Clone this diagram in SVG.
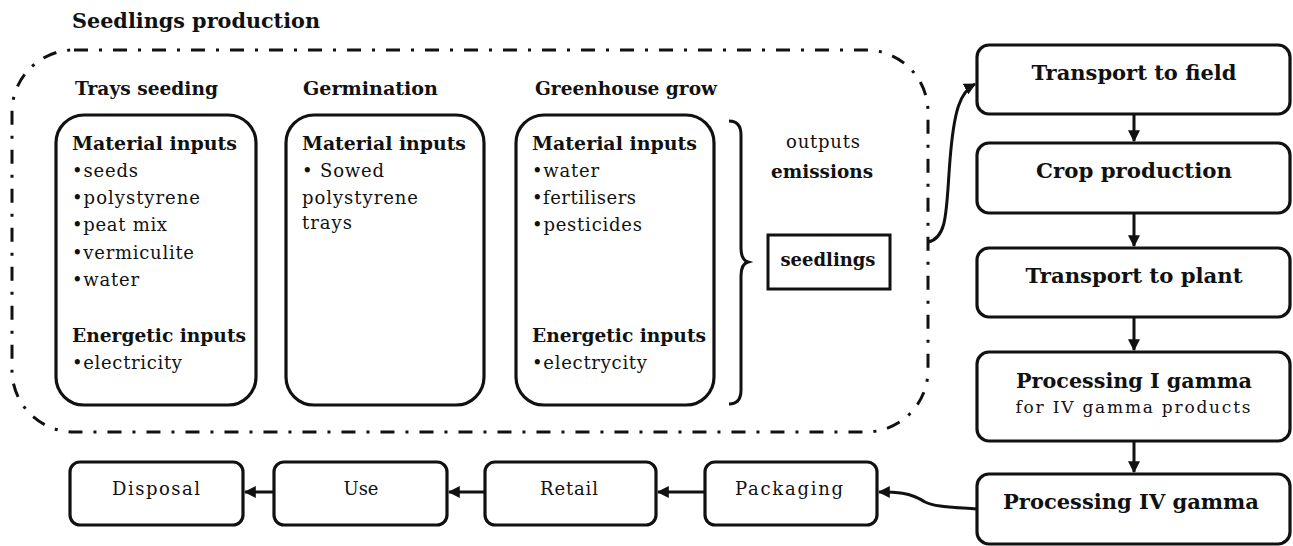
<svg xmlns="http://www.w3.org/2000/svg" width="1293" height="546" viewBox="0 0 1293 546">
  <style>
    text { font-family: "DejaVu Serif", "Liberation Serif", serif; fill: #111; }
    .title { font-size: 20.5px; font-weight: bold; }
    .sub { font-size: 18px; font-weight: bold; }
    .hd { font-size: 18.5px; font-weight: bold; }
    .it { font-size: 18px; }
    .big { font-size: 20.5px; font-weight: bold; text-anchor: middle; }
    .small { font-size: 17px; text-anchor: middle; }
    .lbl { font-size: 18px; text-anchor: middle; }
    .box { fill: #fff; stroke: #111; stroke-width: 3.2; }
    .conn { fill: none; stroke: #111; stroke-width: 3; }
  </style>
  <defs>
    <marker id="ah" viewBox="0 0 10 10" refX="9" refY="5" markerWidth="4" markerHeight="4" orient="auto" markerUnits="strokeWidth">
      <path d="M0,0 L10,5 L0,10 z" fill="#111"/>
    </marker>
  </defs>
  <rect width="1293" height="546" fill="#fff"/>

  <!-- seedlings production boundary -->
  <g id="seedlings-production">
    <text class="title" x="72" y="28" textLength="248" lengthAdjust="spacingAndGlyphs">Seedlings production</text>
    <rect x="12" y="50" width="916" height="382" rx="62" ry="62" fill="none" stroke="#111" stroke-width="3" stroke-dasharray="14 11 3 11"/>
  </g>

  <g id="trays-seeding">
    <text class="sub" x="75" y="95" textLength="143" lengthAdjust="spacingAndGlyphs">Trays seeding</text>
    <rect class="box" x="56" y="115" width="200" height="290" rx="28"/>
    <text class="hd" x="72" y="150" textLength="165" lengthAdjust="spacingAndGlyphs">Material inputs</text>
    <text class="it" x="72" y="177" textLength="66">•seeds</text>
    <text class="it" x="72" y="204" textLength="128">•polystyrene</text>
    <text class="it" x="72" y="231" textLength="95">•peat mix</text>
    <text class="it" x="72" y="259" textLength="122">•vermiculite</text>
    <text class="it" x="72" y="286" textLength="67">•water</text>
    <text class="hd" x="72" y="342" textLength="174" lengthAdjust="spacingAndGlyphs">Energetic inputs</text>
    <text class="it" x="72" y="369" textLength="110">•electricity</text>
  </g>

  <g id="germination">
    <text class="sub" x="303" y="95" textLength="135" lengthAdjust="spacingAndGlyphs">Germination</text>
    <rect class="box" x="286" y="115" width="198" height="290" rx="28"/>
    <text class="hd" x="302" y="150" textLength="164" lengthAdjust="spacingAndGlyphs">Material inputs</text>
    <text class="it" x="302" y="177" textLength="82">• Sowed</text>
    <text class="it" x="302" y="204" textLength="116">polystyrene</text>
    <text class="it" x="302" y="229" textLength="50">trays</text>
  </g>

  <g id="greenhouse-grow">
    <text class="sub" x="535" y="95" textLength="182" lengthAdjust="spacingAndGlyphs">Greenhouse grow</text>
    <rect class="box" x="516" y="115" width="198" height="290" rx="28"/>
    <text class="hd" x="532" y="150" textLength="165" lengthAdjust="spacingAndGlyphs">Material inputs</text>
    <text class="it" x="532" y="177" textLength="67">•water</text>
    <text class="it" x="532" y="204" textLength="104">•fertilisers</text>
    <text class="it" x="532" y="231" textLength="110">•pesticides</text>
    <text class="hd" x="532" y="342" textLength="174" lengthAdjust="spacingAndGlyphs">Energetic inputs</text>
    <text class="it" x="532" y="369" textLength="115">•electrycity</text>
  </g>

  <g id="outputs">
    <path d="M729,121 Q741,121 741,135 L741,248 Q741,260 748,262 Q741,264 741,276 L741,390 Q741,404 729,404" fill="none" stroke="#111" stroke-width="3"/>
    <text class="lbl" x="823" y="148" textLength="74">outputs</text>
    <text class="lbl" x="822" y="178" font-weight="bold" textLength="102" lengthAdjust="spacingAndGlyphs">emissions</text>
    <rect x="768" y="235" width="122" height="54" fill="#fff" stroke="#111" stroke-width="3"/>
    <text class="lbl" x="828" y="266" font-weight="bold" textLength="95" lengthAdjust="spacingAndGlyphs">seedlings</text>
  </g>

  <g id="transport-field">
    <rect class="box" x="977" y="45" width="313" height="69" rx="12"/>
    <text class="big" x="1134" y="80" textLength="205" lengthAdjust="spacingAndGlyphs">Transport to field</text>
  </g>
  <g id="crop-production">
    <rect class="box" x="977" y="143" width="313" height="70" rx="12"/>
    <text class="big" x="1134" y="178" textLength="196" lengthAdjust="spacingAndGlyphs">Crop production</text>
  </g>
  <g id="transport-plant">
    <rect class="box" x="977" y="248" width="313" height="69" rx="12"/>
    <text class="big" x="1134" y="283" textLength="217" lengthAdjust="spacingAndGlyphs">Transport to plant</text>
  </g>
  <g id="processing-1">
    <rect class="box" x="977" y="352" width="313" height="89" rx="12"/>
    <text class="big" x="1134" y="388" textLength="236" lengthAdjust="spacingAndGlyphs">Processing I gamma</text>
    <text class="small" x="1133" y="413" textLength="235">for IV gamma products</text>
  </g>
  <g id="processing-4">
    <rect class="box" x="977" y="474" width="313" height="70" rx="12"/>
    <text class="big" x="1131" y="509" textLength="256" lengthAdjust="spacingAndGlyphs">Processing IV gamma</text>
  </g>

  <g id="packaging">
    <rect class="box" x="705" y="462" width="172" height="63" rx="10"/>
    <text class="lbl" x="789" y="495" textLength="108">Packaging</text>
  </g>
  <g id="retail">
    <rect class="box" x="485" y="462" width="171" height="63" rx="10"/>
    <text class="lbl" x="569" y="495" textLength="58">Retail</text>
  </g>
  <g id="use">
    <rect class="box" x="274" y="462" width="173" height="63" rx="10"/>
    <text class="lbl" x="361" y="495" textLength="35">Use</text>
  </g>
  <g id="disposal">
    <rect class="box" x="70" y="462" width="173" height="63" rx="10"/>
    <text class="lbl" x="156" y="495" textLength="88">Disposal</text>
  </g>

  <g id="connectors">
    <path class="conn" d="M928,242 C948,238 946,210 950,160 C954,110 960,92 975,84" marker-end="url(#ah)"/>
    <path class="conn" d="M1134,114 L1134,141" marker-end="url(#ah)"/>
    <path class="conn" d="M1134,213 L1134,246" marker-end="url(#ah)"/>
    <path class="conn" d="M1134,317 L1134,350" marker-end="url(#ah)"/>
    <path class="conn" d="M1134,441 L1134,472" marker-end="url(#ah)"/>
    <path class="conn" d="M977,509 C950,507 935,507 925,502 C910,492 895,492 879,492" marker-end="url(#ah)"/>
    <path class="conn" d="M705,492 L658,492" marker-end="url(#ah)"/>
    <path class="conn" d="M485,492 L449,492" marker-end="url(#ah)"/>
    <path class="conn" d="M274,492 L245,492" marker-end="url(#ah)"/>
  </g>
</svg>
